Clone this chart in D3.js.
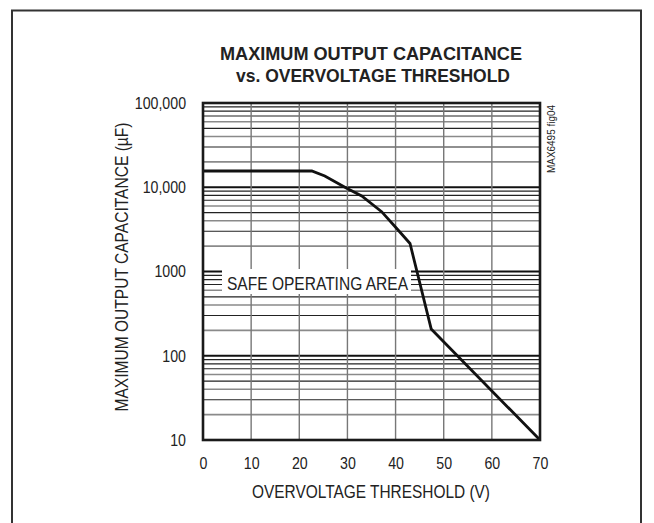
<!DOCTYPE html>
<html>
<head>
<meta charset="utf-8">
<script src="https://cdn.jsdelivr.net/npm/d3@7"></script>
<style>
html,body{margin:0;padding:0;background:#fff;}
svg{display:block;font-family:"Liberation Sans",Arial,sans-serif;}
</style>
</head>
<body>
<svg id="chart" width="654" height="523"></svg>
<script>
// ---- data ----
const voltage = [0, 22.6, 25.3, 29.85, 32.97, 37.1, 40.2, 43.0, 47.4, 70];
const capacitance = [15600, 15600, 13600, 9720, 7870, 5130, 3260, 2150, 208, 10];
const xTicks = [0, 10, 20, 30, 40, 50, 60, 70];
const yTicks = [10, 100, 1000, 10000, 100000];
const yTickLabels = ["10", "100", "1000", "10,000", "100,000"];
const titleLines = ["MAXIMUM OUTPUT CAPACITANCE", "vs. OVERVOLTAGE THRESHOLD"];
const xTitle = "OVERVOLTAGE THRESHOLD (V)";
const yTitle = "MAXIMUM OUTPUT CAPACITANCE (\u00B5F)";
const annotation = "SAFE OPERATING AREA";
const figId = "MAX6495 fig04";

(function () {
const svg = d3.select("#chart");
const pLeft = 203, pRight = 540, pTop = 103, pBottom = 440;
const ink = "#222";
const sx = 0.86; // horizontal condensing of label glyphs

const x = d3.scaleLinear().domain([0, 70]).range([pLeft, pRight]);
const y = d3.scaleLog().domain([10, 100000]).range([pBottom, pTop]);

// outer frame
svg.append("path")
  .attr("d", `M12,530 L12,10.5 L641,10.5 L641,530`)
  .attr("fill", "none").attr("stroke", "#333").attr("stroke-width", 2);

// title
svg.append("text").attr("x", 371).attr("y", 59.5).attr("text-anchor", "middle")
  .attr("font-size", 19).attr("font-weight", "bold").attr("fill", ink)
  .attr("textLength", 302).attr("lengthAdjust", "spacingAndGlyphs").text(titleLines[0]);
svg.append("text").attr("x", 373).attr("y", 81.5).attr("text-anchor", "middle")
  .attr("font-size", 19).attr("font-weight", "bold").attr("fill", ink)
  .attr("textLength", 274).attr("lengthAdjust", "spacingAndGlyphs").text(titleLines[1]);

const g = svg.append("g");

// horizontal minor grid lines
const minor = [];
for (let d = 10; d < 100000; d *= 10) {
  for (let k = 2; k <= 9; k++) minor.push({v: d * k, k: k});
}
const isGray = k => (k % 2 === 0 && k <= 6);
g.selectAll("line.minor").data(minor).enter().append("line")
  .attr("x1", pLeft).attr("x2", pRight)
  .attr("y1", d => y(d.v)).attr("y2", d => y(d.v))
  .attr("stroke", d => isGray(d.k) ? "#8a8a8a" : "#222")
  .attr("stroke-width", d => isGray(d.k) ? 1.6 : 1.1);

// decade grid lines
g.selectAll("line.decade").data(yTicks.slice(1, -1)).enter().append("line")
  .attr("x1", pLeft).attr("x2", pRight)
  .attr("y1", d => y(d)).attr("y2", d => y(d))
  .attr("stroke", "#111").attr("stroke-width", 2);

// vertical grid lines
g.selectAll("line.vgrid").data(xTicks.slice(1, -1)).enter().append("line")
  .attr("x1", d => x(d)).attr("x2", d => x(d))
  .attr("y1", pTop).attr("y2", pBottom)
  .attr("stroke", "#777").attr("stroke-width", 1.4);

// annotation box (white background hides grid)
g.append("rect").attr("x", 222).attr("y", 269).attr("width", 189).attr("height", 25)
  .attr("fill", "#fff");
g.append("text").attr("x", 227).attr("y", 290).attr("font-size", 18).attr("fill", ink)
  .attr("textLength", 181).attr("lengthAdjust", "spacingAndGlyphs").text(annotation);

// curve
const pts = voltage.map((v, i) => [v, capacitance[i]]);
g.append("path").datum(pts)
  .attr("d", d3.line().x(d => x(d[0])).y(d => y(d[1])))
  .attr("fill", "none").attr("stroke", "#111").attr("stroke-width", 2.8)
  .attr("stroke-linejoin", "miter");

// plot frame
g.append("rect").attr("x", pLeft).attr("y", pTop).attr("width", pRight - pLeft).attr("height", pBottom - pTop)
  .attr("fill", "none").attr("stroke", "#1a1a1a").attr("stroke-width", 2.6);

// axes (tick labels via d3 axes)
const xAxis = d3.axisBottom(x).tickValues(xTicks).tickSize(0).tickPadding(12);
const xa = svg.append("g").attr("transform", `translate(0,${pBottom + 5})`).call(xAxis);
xa.select(".domain").remove();
xa.selectAll("text").attr("font-size", 16.5).attr("fill", ink)
  .attr("font-family", "'Liberation Sans',Arial,sans-serif")
  .attr("transform", `scale(${sx},1)`);

const yPad = 17;
const yAxis = d3.axisLeft(y).tickValues(yTicks).tickFormat((d, i) => yTickLabels[i]).tickSize(0).tickPadding(yPad);
const ya = svg.append("g").attr("transform", `translate(${pLeft},0)`).call(yAxis);
ya.select(".domain").remove();
ya.selectAll("text").attr("font-size", 16.5).attr("fill", ink)
  .attr("font-family", "'Liberation Sans',Arial,sans-serif")
  .attr("x", -yPad / sx)
  .attr("transform", `scale(${sx},1)`);

// axis titles
svg.append("text").attr("x", 371).attr("y", 497.5).attr("text-anchor", "middle")
  .attr("font-size", 17.5).attr("fill", ink)
  .attr("textLength", 238).attr("lengthAdjust", "spacingAndGlyphs").text(xTitle);
svg.append("text").attr("transform", "translate(128,267) rotate(-90)").attr("text-anchor", "middle")
  .attr("font-size", 17.5).attr("fill", ink)
  .attr("textLength", 289).attr("lengthAdjust", "spacingAndGlyphs").text(yTitle);

// figure id
svg.append("text").attr("transform", "translate(555,139) rotate(-90)").attr("text-anchor", "middle")
  .attr("font-size", 11.5).attr("fill", ink)
  .attr("textLength", 68).attr("lengthAdjust", "spacingAndGlyphs").text(figId);
})();
</script>
</body>
</html>
